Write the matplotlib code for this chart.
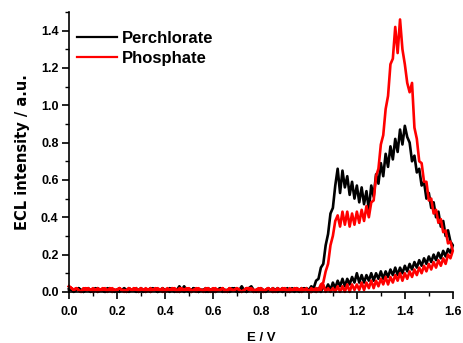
import numpy as np
import matplotlib
matplotlib.use('Agg')
import matplotlib.pyplot as plt
from matplotlib.ticker import MultipleLocator

plt.rcParams['font.family'] = ['Liberation Sans', 'DejaVu Sans']
plt.rcParams['font.weight'] = 'bold'

# potential grid, 0.01 V steps (forward 0 -> 1.6, reverse 1.6 -> 0)
e_fwd = np.round(np.arange(161) * 0.01, 2)
e_rev = e_fwd[::-1]

# Perchlorate, forward scan
black_fwd_flat = [
    0.02, 0.01, 0.00, 0.01, 0.02, 0.01, 0.00, 0.01, 0.01, 0.00,
    0.01, 0.02, 0.00, 0.01, 0.01, 0.00, 0.02, 0.01, 0.00, 0.01,
    0.01, 0.00, 0.01, 0.02, 0.01, 0.00, 0.01, 0.01, 0.02, 0.00,
    0.01, 0.00, 0.01, 0.01, 0.00, 0.02, 0.01, 0.00, 0.01, 0.01,
    0.00, 0.01, 0.02, 0.01, 0.00, 0.01, 0.03, 0.01, 0.00, 0.01,
    0.01, 0.00, 0.02, 0.01, 0.00, 0.01, 0.01, 0.00, 0.02, 0.01,
    0.00, 0.01, 0.01, 0.02, 0.00, 0.01, 0.01, 0.00, 0.01, 0.02,
    0.01, 0.00, 0.01, 0.01, 0.00, 0.02, 0.03, 0.01, 0.00, 0.01,
    0.01, 0.00, 0.01, 0.02, 0.01, 0.00, 0.01, 0.02, 0.01, 0.00,
    0.01, 0.02, 0.01, 0.01, 0.00, 0.02, 0.01, 0.02, 0.01, 0.02]
black_fwd_peak = [
    0.01, 0.03, 0.02, 0.06, 0.07, 0.13, 0.15, 0.25, 0.31, 0.42,
    0.45, 0.57, 0.66, 0.53, 0.65, 0.56, 0.62, 0.52, 0.59, 0.50,
    0.57, 0.48, 0.56, 0.47, 0.54, 0.44, 0.57, 0.51, 0.63, 0.58,
    0.69, 0.62, 0.74, 0.67, 0.78, 0.71, 0.82, 0.75, 0.87, 0.79,
    0.89, 0.83, 0.80, 0.70, 0.73, 0.64, 0.66, 0.57, 0.59, 0.50,
    0.53, 0.45, 0.48, 0.40, 0.43, 0.35, 0.38, 0.30, 0.33, 0.27,
    0.25]
# Perchlorate, reverse scan
black_rev_peak = [
    0.25, 0.21, 0.23, 0.19, 0.22, 0.18, 0.21, 0.17, 0.20, 0.16,
    0.19, 0.15, 0.18, 0.14, 0.17, 0.13, 0.16, 0.12, 0.15, 0.11,
    0.14, 0.10, 0.13, 0.09, 0.13, 0.09, 0.12, 0.08, 0.11, 0.07,
    0.11, 0.07, 0.10, 0.06, 0.10, 0.06, 0.09, 0.05, 0.09, 0.05,
    0.10, 0.05, 0.08, 0.04, 0.07, 0.03, 0.07, 0.03, 0.06, 0.02,
    0.05, 0.01, 0.04, 0.01, 0.03, 0.00, 0.02, 0.00, 0.01, 0.00,
    0.01]
black_rev_flat = [
    0.01, 0.02, 0.01, 0.00, 0.01, 0.01, 0.02, 0.00, 0.01, 0.01,
    0.02, 0.01, 0.00, 0.01, 0.02, 0.01, 0.01, 0.00, 0.01, 0.02,
    0.01, 0.01, 0.00, 0.02, 0.01, 0.00, 0.01, 0.03, 0.01, 0.00,
    0.01, 0.02, 0.01, 0.00, 0.01, 0.01, 0.02, 0.01, 0.00, 0.01,
    0.01, 0.00, 0.02, 0.01, 0.01, 0.00, 0.01, 0.02, 0.01, 0.00,
    0.01, 0.03, 0.01, 0.00, 0.01, 0.01, 0.02, 0.00, 0.01, 0.01,
    0.02, 0.01, 0.00, 0.01, 0.01, 0.02, 0.01, 0.00, 0.01, 0.02,
    0.01, 0.00, 0.01, 0.01, 0.02, 0.00, 0.01, 0.01, 0.02, 0.01,
    0.00, 0.01, 0.02, 0.01, 0.00, 0.01, 0.01, 0.02, 0.01, 0.00,
    0.01, 0.02, 0.01, 0.00, 0.01, 0.02, 0.01, 0.01, 0.02, 0.01]

# Phosphate, forward scan
red_fwd_flat = [
    0.03, 0.02, 0.01, 0.02, 0.01, 0.00, 0.02, 0.01, 0.02, 0.01,
    0.00, 0.01, 0.02, 0.01, 0.01, 0.02, 0.00, 0.01, 0.02, 0.01,
    0.01, 0.02, 0.01, 0.00, 0.01, 0.02, 0.01, 0.02, 0.01, 0.01,
    0.02, 0.01, 0.00, 0.01, 0.02, 0.01, 0.01, 0.02, 0.01, 0.00,
    0.01, 0.02, 0.01, 0.01, 0.02, 0.01, 0.00, 0.02, 0.01, 0.01,
    0.02, 0.01, 0.01, 0.00, 0.02, 0.01, 0.01, 0.02, 0.01, 0.00,
    0.01, 0.02, 0.01, 0.01, 0.02, 0.00, 0.01, 0.02, 0.01, 0.01,
    0.02, 0.01, 0.00, 0.01, 0.02, 0.01, 0.02, 0.01, 0.01, 0.00,
    0.02, 0.01, 0.01, 0.02, 0.01, 0.00, 0.01, 0.02, 0.01, 0.01,
    0.02, 0.01, 0.00, 0.01, 0.02, 0.01, 0.01, 0.02, 0.01, 0.01]
red_fwd_peak = [
    0.00, 0.02, 0.01, 0.02, 0.01, 0.04, 0.05, 0.11, 0.15, 0.25,
    0.30, 0.38, 0.41, 0.35, 0.43, 0.36, 0.43, 0.35, 0.42, 0.36,
    0.43, 0.37, 0.44, 0.38, 0.46, 0.40, 0.48, 0.49, 0.62, 0.66,
    0.79, 0.84, 0.98, 1.05, 1.22, 1.25, 1.42, 1.28, 1.46, 1.30,
    1.22, 1.12, 1.07, 1.12, 0.88, 0.82, 0.70, 0.69, 0.59, 0.59,
    0.49, 0.50, 0.42, 0.44, 0.37, 0.39, 0.32, 0.33, 0.26, 0.27,
    0.22]
# Phosphate, reverse scan
red_rev_peak = [
    0.22, 0.18, 0.20, 0.15, 0.18, 0.14, 0.17, 0.13, 0.16, 0.12,
    0.15, 0.11, 0.14, 0.10, 0.13, 0.09, 0.12, 0.08, 0.11, 0.07,
    0.10, 0.06, 0.10, 0.06, 0.09, 0.05, 0.08, 0.04, 0.08, 0.04,
    0.07, 0.03, 0.06, 0.02, 0.06, 0.02, 0.05, 0.01, 0.05, 0.01,
    0.04, 0.01, 0.04, 0.00, 0.04, 0.00, 0.03, 0.00, 0.03, 0.00,
    0.02, 0.00, 0.02, 0.00, 0.04, 0.01, 0.01, 0.00, 0.01, 0.00,
    0.00]
red_rev_flat = [
    0.02, 0.01, 0.00, 0.01, 0.02, 0.01, 0.01, 0.02, 0.00, 0.01,
    0.02, 0.01, 0.01, 0.00, 0.02, 0.01, 0.02, 0.01, 0.00, 0.01,
    0.02, 0.01, 0.00, 0.01, 0.02, 0.02, 0.01, 0.00, 0.01, 0.02,
    0.01, 0.01, 0.02, 0.00, 0.01, 0.02, 0.01, 0.01, 0.00, 0.02,
    0.01, 0.02, 0.01, 0.00, 0.01, 0.01, 0.02, 0.01, 0.00, 0.01,
    0.02, 0.01, 0.01, 0.02, 0.00, 0.01, 0.02, 0.01, 0.01, 0.00,
    0.02, 0.01, 0.01, 0.02, 0.01, 0.00, 0.01, 0.02, 0.01, 0.01,
    0.00, 0.02, 0.01, 0.01, 0.02, 0.00, 0.01, 0.01, 0.02, 0.01,
    0.01, 0.00, 0.02, 0.01, 0.01, 0.02, 0.01, 0.00, 0.01, 0.02,
    0.01, 0.01, 0.02, 0.01, 0.00, 0.01, 0.02, 0.01, 0.02, 0.03]

series = [('Perchlorate', 'black', black_fwd_flat + black_fwd_peak, black_rev_peak + black_rev_flat),
          ('Phosphate', '#ff0000', red_fwd_flat + red_fwd_peak, red_rev_peak + red_rev_flat)]

fig = plt.figure(figsize=(4.63, 3.43), dpi=100)
ax = fig.add_axes([0.149, 0.149, 0.829, 0.816])

for name, col, fwd, rev in series:
    x = np.concatenate([e_fwd, e_rev])
    y = np.concatenate([fwd, rev])
    ax.plot(x, y, color=col, lw=1.9, label=name, clip_on=False)

ax.set_xlim(0, 1.6)
ax.set_ylim(0, 1.5)
ax.xaxis.set_major_locator(MultipleLocator(0.2))
ax.xaxis.set_minor_locator(MultipleLocator(0.1))
ax.yaxis.set_major_locator(MultipleLocator(0.2))
ax.yaxis.set_minor_locator(MultipleLocator(0.1))
ax.spines['top'].set_visible(False)
ax.spines['right'].set_visible(False)
for s in ['left', 'bottom']:
    ax.spines[s].set_linewidth(1.2)
ax.tick_params(which='major', direction='out', length=5, width=1.2, labelsize=9)
ax.tick_params(which='minor', direction='out', length=3, width=1.0)
ax.tick_params(axis='x', which='major', pad=5)
ax.tick_params(axis='y', which='major', pad=2.5)
for lab in ax.get_xticklabels() + ax.get_yticklabels():
    lab.set_fontweight('bold')

ax.set_xlabel('E / V', fontsize=9.5, fontweight='bold', labelpad=10)
ax.set_ylabel('ECL intensity / a.u.', fontsize=10.5, fontweight='bold',
              family=['DejaVu Sans'], labelpad=8)

leg = ax.legend(loc='upper left', bbox_to_anchor=(0.02, 0.932), frameon=False,
                prop={'size': 12, 'weight': 'bold'}, handlelength=2.4,
                handletextpad=0.3, labelspacing=0.3, borderaxespad=0, borderpad=0)
for h in leg.get_lines():
    h.set_linewidth(1.6)

fig.savefig('out.png', dpi=100)
